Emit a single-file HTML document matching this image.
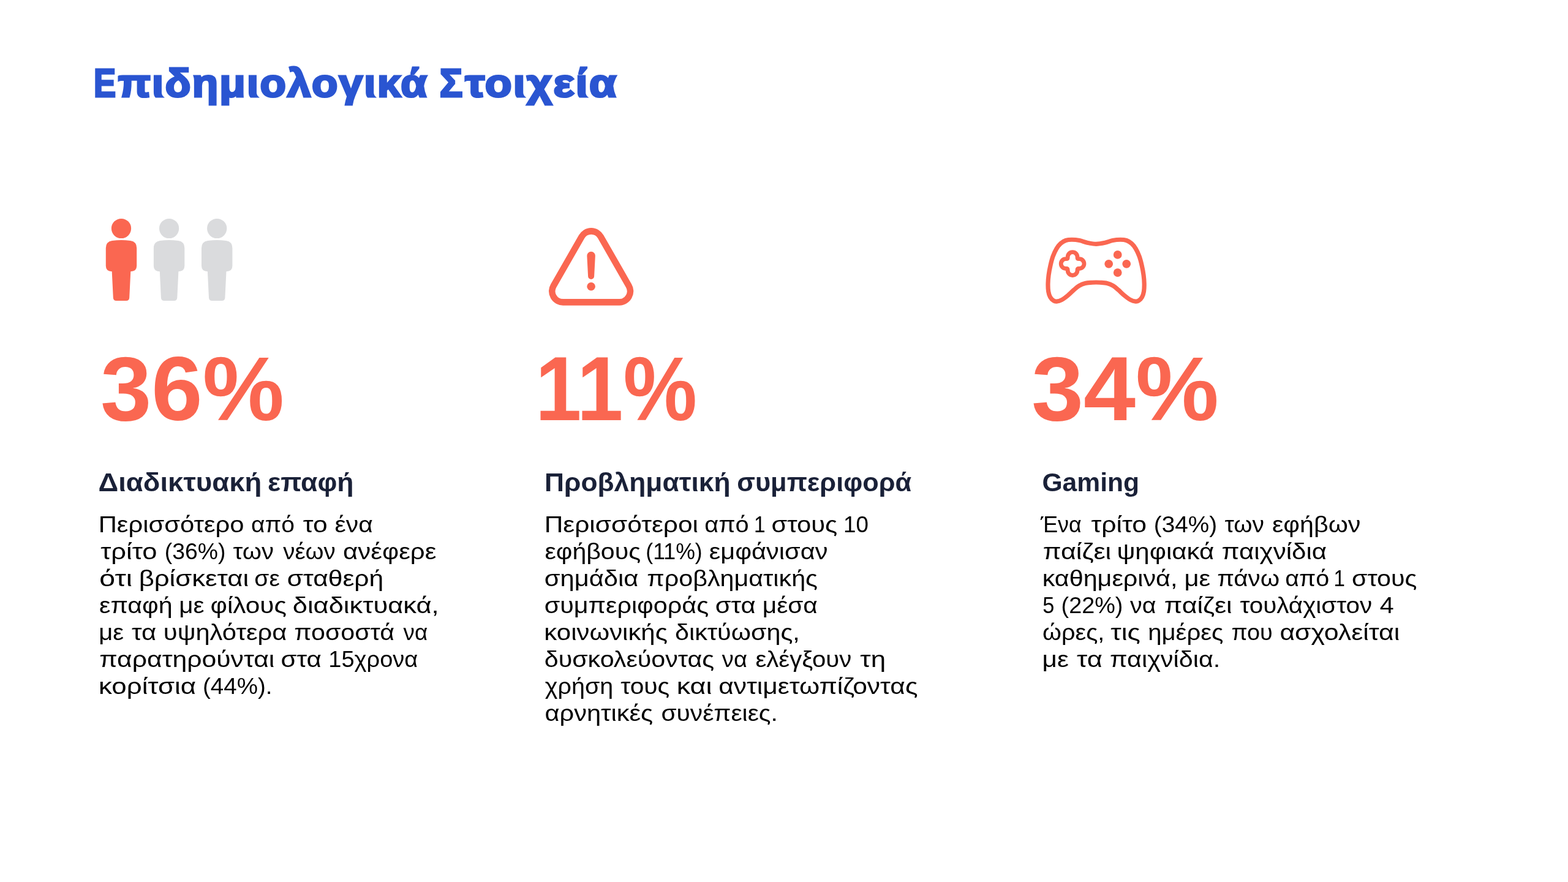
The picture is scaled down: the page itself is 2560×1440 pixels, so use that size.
<!DOCTYPE html>
<html lang="el"><head><meta charset="utf-8"><title>Επιδημιολογικά Στοιχεία</title>
<style>
html,body{margin:0;padding:0;background:#fff}
body{width:2560px;height:1440px;position:relative;overflow:hidden;font-family:"Liberation Sans",sans-serif}
svg{position:absolute;left:0;top:0}
#tx{position:absolute;left:0;top:0;width:2560px;height:1440px;will-change:transform}
h1,h2,p{margin:0;padding:0;position:absolute;left:0;top:0;white-space:nowrap;line-height:1}
span{position:absolute;left:0;top:0;display:block;white-space:nowrap;line-height:1;transform-origin:0 0}
.b{font-size:37.5px;font-weight:400;color:#000}
.h{font-size:42px;font-weight:700;color:#1A2138}
.t{font-size:64.5px;font-weight:700;color:#2A55D1;-webkit-text-stroke:3.2px #2A55D1;letter-spacing:2px}
</style></head><body>
<svg width="2560" height="1440" viewBox="0 0 2560 1440">
<circle cx="198" cy="373" r="16.1" fill="#FA6751"/><path d="M183 393 Q198 391 213 393 Q223.2 394.5 223.2 405 V434 Q223.2 443 213.3 443.3 L211.2 486 Q211 491 206 491 H190 Q185 491 184.8 486 L182.7 443.3 Q172.8 443 172.8 434 V405 Q172.8 394.5 183 393Z" fill="#FA6751"/>
<circle cx="276.1" cy="373" r="16.1" fill="#DADBDD"/><path d="M261.1 393 Q276.1 391 291.1 393 Q301.3 394.5 301.3 405 V434 Q301.3 443 291.4 443.3 L289.3 486 Q289.1 491 284.1 491 H268.1 Q263.1 491 262.9 486 L260.8 443.3 Q250.9 443 250.9 434 V405 Q250.9 394.5 261.1 393Z" fill="#DADBDD"/>
<circle cx="354.2" cy="373" r="16.1" fill="#DADBDD"/><path d="M339.2 393 Q354.2 391 369.2 393 Q379.4 394.5 379.4 405 V434 Q379.4 443 369.5 443.3 L367.4 486 Q367.2 491 362.2 491 H346.2 Q341.2 491 341 486 L338.9 443.3 Q329 443 329 434 V405 Q329 394.5 339.2 393Z" fill="#DADBDD"/>
<path d="M919.2 493.4 L1011.1 493.4 A17.9 17.9 0 0 0 1026.6 466.55 L980.7 386.35 A17.9 17.9 0 0 0 949.7 386.35 L903.7 466.55 A17.9 17.9 0 0 0 919.2 493.4Z" fill="none" stroke="#FA6751" stroke-width="10.6"/><path d="M958.35 417.5 A6.75 6.75 0 0 1 971.85 417.5 L970.1 451 A5 5 0 0 1 960.1 451Z" fill="#FA6751"/><circle cx="965.1" cy="467.8" r="6.8" fill="#FA6751"/>
<path d="M1789.58 398.33C1784.72 398.33 1779.51 397.22 1775 396.25C1770.49 395.28 1766.67 393.33 1762.5 392.5C1758.33 391.67 1753.75 391.25 1750 391.25C1746.25 391.25 1743.06 391.46 1740 392.5C1736.94 393.54 1734.17 395.28 1731.67 397.5C1729.17 399.72 1727.08 402.36 1725 405.83C1722.92 409.31 1720.83 413.75 1719.17 418.33C1717.5 422.92 1716.18 428.19 1715 433.33C1713.82 438.47 1712.75 444.17 1712.08 449.17C1711.42 454.17 1711.07 458.89 1711 463.33C1710.93 467.78 1711.07 472.22 1711.67 475.83C1712.26 479.44 1713.19 482.5 1714.58 485C1715.97 487.5 1718.26 489.65 1720 490.83C1721.74 492.01 1722.78 492.29 1725 492.08C1727.22 491.88 1730.28 491.18 1733.33 489.58C1736.39 487.99 1740 485.21 1743.33 482.5C1746.67 479.79 1750.28 475.97 1753.33 473.33C1756.39 470.69 1758.61 468.47 1761.67 466.67C1764.72 464.86 1768.06 463.4 1771.67 462.5C1775.28 461.6 1780.35 461.5 1783.33 461.25C1786.32 461 1787.5 461 1789.58 461C1791.67 461 1792.85 461 1795.83 461.25C1798.82 461.5 1803.89 461.6 1807.5 462.5C1811.11 463.4 1814.44 464.86 1817.5 466.67C1820.56 468.47 1822.78 470.69 1825.83 473.33C1828.89 475.97 1832.5 479.79 1835.83 482.5C1839.17 485.21 1842.78 487.99 1845.83 489.58C1848.89 491.18 1851.94 491.88 1854.17 492.08C1856.39 492.29 1857.43 492.01 1859.17 490.83C1860.9 489.65 1863.19 487.5 1864.58 485C1865.97 482.5 1866.9 479.44 1867.5 475.83C1868.1 472.22 1868.24 467.78 1868.17 463.33C1868.1 458.89 1867.75 454.17 1867.08 449.17C1866.42 444.17 1865.35 438.47 1864.17 433.33C1862.99 428.19 1861.67 422.92 1860 418.33C1858.33 413.75 1856.25 409.31 1854.17 405.83C1852.08 402.36 1850 399.72 1847.5 397.5C1845 395.28 1842.22 393.54 1839.17 392.5C1836.11 391.46 1832.92 391.25 1829.17 391.25C1825.42 391.25 1820.83 391.67 1816.67 392.5C1812.5 393.33 1808.68 395.28 1804.17 396.25C1799.65 397.22 1794.44 398.33 1789.58 398.33Z" fill="none" stroke="#FA6751" stroke-width="7.2" stroke-linejoin="round"/><path d="M1743.2 420.2 V419.6 A7.9 7.9 0 0 1 1759 419.6 V420.2 Q1759 422.7 1761.5 422.7 H1762.1 A7.9 7.9 0 0 1 1762.1 438.5 H1761.5 Q1759 438.5 1759 441 V441.6 A7.9 7.9 0 0 1 1743.2 441.6 V441 Q1743.2 438.5 1740.7 438.5 H1740.1 A7.9 7.9 0 0 1 1740.1 422.7 H1740.7 Q1743.2 422.7 1743.2 420.2Z" fill="none" stroke="#FA6751" stroke-width="6.8" stroke-linejoin="round"/><circle cx="1824.7" cy="415.9" r="6.9" fill="#FA6751"/><circle cx="1810.2" cy="430.8" r="6.9" fill="#FA6751"/><circle cx="1839.2" cy="430.8" r="6.9" fill="#FA6751"/><circle cx="1824.7" cy="445.1" r="6.9" fill="#FA6751"/>
<text x="164" y="686" font-family="'Liberation Sans',sans-serif" font-size="148" font-weight="700" fill="#FA6751" textLength="300" lengthAdjust="spacingAndGlyphs">36%</text>
<text x="874" y="686" font-family="'Liberation Sans',sans-serif" font-size="148" font-weight="700" fill="#FA6751" textLength="264" lengthAdjust="spacingAndGlyphs">11%</text>
<text x="1684" y="686" font-family="'Liberation Sans',sans-serif" font-size="148" font-weight="700" fill="#FA6751" textLength="306" lengthAdjust="spacingAndGlyphs">34%</text>
</svg>
<div id="tx">
<p class="b"><span style="transform:translate(160.76px,838px) scaleX(1.1120)">Περισσότερο</span> <span style="transform:translate(410.01px,838px) scaleX(1.0376)">από</span> <span style="transform:translate(494.85px,838px) scaleX(1.1327)">το</span> <span style="transform:translate(546.55px,838px) scaleX(1.0880)">ένα</span></p>
<p class="b"><span style="transform:translate(164.18px,882px) scaleX(1.1586)">τρίτο</span> <span style="transform:translate(268.82px,882px) scaleX(0.9954)">(36%)</span> <span style="transform:translate(380.49px,882px) scaleX(1.0677)">των</span> <span style="transform:translate(462.26px,882px) scaleX(1.0246)">νέων</span> <span style="transform:translate(560.08px,882px) scaleX(1.1180)">ανέφερε</span></p>
<p class="b"><span style="transform:translate(162.31px,926px) scaleX(1.2339)">ότι</span> <span style="transform:translate(226.64px,926px) scaleX(1.1647)">βρίσκεται</span> <span style="transform:translate(415.37px,926px) scaleX(1.0379)">σε</span> <span style="transform:translate(468.76px,926px) scaleX(1.1336)">σταθερή</span></p>
<p class="b"><span style="transform:translate(162.04px,970px) scaleX(1.0992)">επαφή</span> <span style="transform:translate(292.23px,970px) scaleX(1.0753)">με</span> <span style="transform:translate(343.46px,970px) scaleX(1.1280)">φίλους</span> <span style="transform:translate(477.71px,970px) scaleX(1.1586)">διαδικτυακά,</span></p>
<p class="b"><span style="transform:translate(161.26px,1014px) scaleX(1.0638)">με</span> <span style="transform:translate(215.06px,1014px) scaleX(1.1174)">τα</span> <span style="transform:translate(266.85px,1014px) scaleX(1.1124)">υψηλότερα</span> <span style="transform:translate(480.26px,1014px) scaleX(1.0967)">ποσοστά</span> <span style="transform:translate(658.59px,1014px) scaleX(0.9823)">να</span></p>
<p class="b"><span style="transform:translate(162.30px,1058px) scaleX(1.1374)">παρατηρούνται</span> <span style="transform:translate(458.57px,1058px) scaleX(1.1224)">στα</span> <span style="transform:translate(536.35px,1058px) scaleX(1.0134)">15χρονα</span></p>
<p class="b"><span style="transform:translate(161.00px,1102px) scaleX(1.1679)">κορίτσια</span> <span style="transform:translate(331.05px,1102px) scaleX(1.0270)">(44%).</span></p>
<p class="b"><span style="transform:translate(888.70px,838px) scaleX(1.1311)">Περισσότεροι</span> <span style="transform:translate(1150.28px,838px) scaleX(1.0582)">από</span> <span style="transform:translate(1230.94px,838px) scaleX(0.8921)">1</span> <span style="transform:translate(1259.44px,838px) scaleX(1.1123)">στους</span> <span style="transform:translate(1377.04px,838px) scaleX(0.9791)">10</span></p>
<p class="b"><span style="transform:translate(889.44px,882px) scaleX(1.0953)">εφήβους</span> <span style="transform:translate(1054.26px,882px) scaleX(0.9510)">(11%)</span> <span style="transform:translate(1157.68px,882px) scaleX(1.1077)">εμφάνισαν</span></p>
<p class="b"><span style="transform:translate(888.69px,926px) scaleX(1.1127)">σημάδια</span> <span style="transform:translate(1056.35px,926px) scaleX(1.0997)">προβληματικής</span></p>
<p class="b"><span style="transform:translate(888.71px,970px) scaleX(1.1009)">συμπεριφοράς</span> <span style="transform:translate(1167.68px,970px) scaleX(1.1153)">στα</span> <span style="transform:translate(1244.71px,970px) scaleX(1.0843)">μέσα</span></p>
<p class="b"><span style="transform:translate(888.37px,1014px) scaleX(1.1178)">κοινωνικής</span> <span style="transform:translate(1101.96px,1014px) scaleX(1.1014)">δικτύωσης,</span></p>
<p class="b"><span style="transform:translate(888.71px,1058px) scaleX(1.0987)">δυσκολεύοντας</span> <span style="transform:translate(1178.81px,1058px) scaleX(1.0168)">να</span> <span style="transform:translate(1233.47px,1058px) scaleX(1.0680)">ελέγξουν</span> <span style="transform:translate(1404.33px,1058px) scaleX(1.1691)">τη</span></p>
<p class="b"><span style="transform:translate(889.80px,1102px) scaleX(1.0526)">χρήση</span> <span style="transform:translate(1013.13px,1102px) scaleX(1.0869)">τους</span> <span style="transform:translate(1104.67px,1102px) scaleX(1.1952)">και</span> <span style="transform:translate(1173.15px,1102px) scaleX(1.1340)">αντιμετωπίζοντας</span></p>
<p class="b"><span style="transform:translate(889.44px,1146px) scaleX(1.1093)">αρνητικές</span> <span style="transform:translate(1079.48px,1146px) scaleX(1.0854)">συνέπειες.</span></p>
<p class="b"><span style="transform:translate(1698.97px,838px) scaleX(0.9567)">Ένα</span> <span style="transform:translate(1781.46px,838px) scaleX(1.1375)">τρίτο</span> <span style="transform:translate(1883.78px,838px) scaleX(1.0325)">(34%)</span> <span style="transform:translate(1999.41px,838px) scaleX(1.0330)">των</span> <span style="transform:translate(2076.94px,838px) scaleX(1.0987)">εφήβων</span></p>
<p class="b"><span style="transform:translate(1702.78px,882px) scaleX(1.1494)">παίζει</span> <span style="transform:translate(1823.45px,882px) scaleX(1.1189)">ψηφιακά</span> <span style="transform:translate(1994.57px,882px) scaleX(1.1210)">παιχνίδια</span></p>
<p class="b"><span style="transform:translate(1701.67px,926px) scaleX(1.1009)">καθημερινά,</span> <span style="transform:translate(1933.38px,926px) scaleX(1.1141)">με</span> <span style="transform:translate(1987.14px,926px) scaleX(1.0730)">πάνω</span> <span style="transform:translate(2098.29px,926px) scaleX(1.0506)">από</span> <span style="transform:translate(2177.41px,926px) scaleX(0.8832)">1</span> <span style="transform:translate(2206.96px,926px) scaleX(1.0990)">στους</span></p>
<p class="b"><span style="transform:translate(1702.23px,970px) scaleX(0.9180)">5</span> <span style="transform:translate(1732.60px,970px) scaleX(1.0064)">(22%)</span> <span style="transform:translate(1845.07px,970px) scaleX(1.0486)">να</span> <span style="transform:translate(1900.84px,970px) scaleX(1.1430)">παίζει</span> <span style="transform:translate(2024.38px,970px) scaleX(1.0761)">τουλάχιστον</span> <span style="transform:translate(2252.86px,970px) scaleX(1.1034)">4</span></p>
<p class="b"><span style="transform:translate(1702.08px,1014px) scaleX(1.0573)">ώρες,</span> <span style="transform:translate(1813.20px,1014px) scaleX(1.1779)">τις</span> <span style="transform:translate(1874.21px,1014px) scaleX(1.0681)">ημέρες</span> <span style="transform:translate(2010.49px,1014px) scaleX(1.0094)">που</span> <span style="transform:translate(2089.39px,1014px) scaleX(1.1402)">ασχολείται</span></p>
<p class="b"><span style="transform:translate(1701.60px,1058px) scaleX(1.1285)">με</span> <span style="transform:translate(1758.09px,1058px) scaleX(1.1609)">τα</span> <span style="transform:translate(1812.10px,1058px) scaleX(1.1030)">παιχνίδια.</span></p>
<h2 class="h"><span style="transform:translate(160.44px,767px) scaleX(1.0839)">Διαδικτυακή</span> <span style="transform:translate(437.02px,767px) scaleX(1.0607)">επαφή</span></h2>
<h2 class="h"><span style="transform:translate(889.08px,767px) scaleX(1.0552)">Προβληματική</span> <span style="transform:translate(1203.26px,767px) scaleX(1.0317)">συμπεριφορά</span></h2>
<h2 class="h"><span style="transform:translate(1701.44px,767px) scaleX(1.0151)">Gaming</span></h2>
<h1 class="t"><span style="transform:translate(152.97px,104px) scaleX(0.8400)">Ε</span><span style="transform:translate(192.79px,104px) scaleX(1.0765)">πιδημιολογικά</span> <span style="transform:translate(717.79px,104px) scaleX(0.9704)">Σ</span><span style="transform:translate(759.46px,104px) scaleX(1.1132)">τοιχεία</span></h1>
</div>
</body></html>
